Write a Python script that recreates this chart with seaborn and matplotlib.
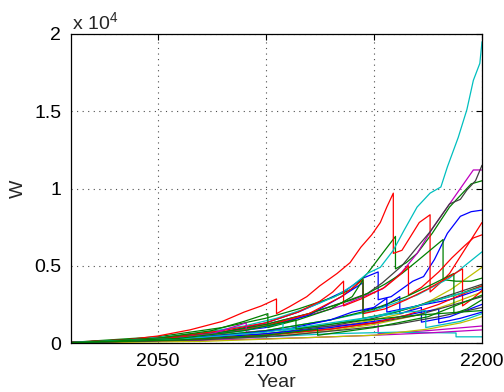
import matplotlib
matplotlib.use("Agg")
import matplotlib.pyplot as plt
import seaborn as sns
import pandas as pd

# ---- data (W in units of 10^4) ----
c1_year = [2010, 2030, 2050, 2070, 2090, 2105, 2120, 2132, 2140, 2147, 2153, 2159, 2164, 2170, 2176, 2181, 2184, 2189, 2193, 2196, 2199, 2200]
c1_w = [0.004, 0.012, 0.035, 0.065, 0.11, 0.16, 0.23, 0.30, 0.37, 0.45, 0.49, 0.60, 0.73, 0.88, 0.97, 1.01, 1.14, 1.33, 1.51, 1.70, 1.81, 1.95]

r1_year = [2010, 2035, 2050, 2065, 2080, 2090, 2098, 2105, 2105, 2111, 2119, 2125, 2133, 2139, 2144, 2149, 2153, 2156, 2159, 2159, 2163, 2167, 2171, 2176, 2176, 2180, 2185, 2190, 2195, 2200]
r1_w = [0.005, 0.02, 0.045, 0.085, 0.14, 0.20, 0.24, 0.285, 0.19, 0.235, 0.30, 0.37, 0.45, 0.52, 0.62, 0.70, 0.78, 0.88, 0.97, 0.58, 0.60, 0.69, 0.78, 0.83, 0.33, 0.38, 0.45, 0.56, 0.67, 0.78]

r2_year = [2010, 2050, 2080, 2100, 2115, 2125, 2131, 2136, 2136, 2145, 2155, 2162, 2166, 2166, 2172, 2180, 2186, 2192, 2196, 2200]
r2_w = [0.003, 0.03, 0.08, 0.13, 0.20, 0.27, 0.33, 0.40, 0.24, 0.29, 0.36, 0.44, 0.50, 0.31, 0.36, 0.46, 0.55, 0.63, 0.68, 0.70]

r3_year = [2010, 2050, 2080, 2100, 2120, 2135, 2145, 2145, 2155, 2165, 2175, 2185, 2191, 2191, 2196, 2200]
r3_w = [0.003, 0.025, 0.06, 0.11, 0.19, 0.30, 0.41, 0.19, 0.22, 0.28, 0.35, 0.43, 0.48, 0.24, 0.29, 0.34]

r4_year = [2010, 2060, 2100, 2130, 2150, 2165, 2180, 2190, 2200]
r4_w = [0.002, 0.02, 0.05, 0.09, 0.13, 0.18, 0.25, 0.31, 0.37]

g1_year = [2010, 2050, 2080, 2100, 2115, 2130, 2140, 2147, 2154, 2160, 2160, 2165, 2170, 2177, 2185, 2191, 2195, 2200]
g1_w = [0.004, 0.04, 0.10, 0.16, 0.22, 0.29, 0.35, 0.45, 0.58, 0.69, 0.48, 0.52, 0.58, 0.71, 0.88, 0.97, 1.03, 1.05]

g2_year = [2010, 2050, 2080, 2100, 2120, 2140, 2147, 2155, 2163, 2170, 2176, 2182, 2182, 2188, 2195, 2200]
g2_w = [0.003, 0.03, 0.07, 0.12, 0.19, 0.28, 0.32, 0.38, 0.45, 0.53, 0.60, 0.67, 0.41, 0.40, 0.40, 0.42]

g3_year = [2010, 2060, 2100, 2130, 2150, 2165, 2177, 2187, 2187, 2193, 2200]
g3_w = [0.003, 0.025, 0.08, 0.15, 0.22, 0.30, 0.38, 0.45, 0.19, 0.22, 0.28]

g4_year = [2010, 2050, 2075, 2090, 2101, 2101, 2115, 2130, 2140, 2145, 2145, 2160, 2175, 2190, 2200]
g4_w = [0.003, 0.03, 0.08, 0.14, 0.19, 0.10, 0.15, 0.22, 0.30, 0.41, 0.16, 0.20, 0.26, 0.32, 0.37]

g5_year = [2010, 2060, 2090, 2114, 2114, 2140, 2170, 2200]
g5_w = [0.002, 0.03, 0.08, 0.15, 0.09, 0.14, 0.18, 0.21]

g6_year = [2010, 2060, 2100, 2124, 2124, 2150, 2175, 2200]
g6_w = [0.002, 0.02, 0.05, 0.09, 0.05, 0.10, 0.17, 0.31]

b1_year = [2010, 2050, 2080, 2100, 2115, 2125, 2137, 2145, 2152, 2152, 2158, 2163, 2168, 2173, 2178, 2184, 2190, 2195, 2200]
b1_w = [0.003, 0.03, 0.07, 0.13, 0.20, 0.26, 0.34, 0.42, 0.46, 0.28, 0.30, 0.35, 0.40, 0.43, 0.54, 0.71, 0.82, 0.85, 0.86]

b2_year = [2010, 2060, 2100, 2120, 2135, 2145, 2145, 2155, 2162, 2162, 2172, 2172, 2185, 2200]
b2_w = [0.003, 0.03, 0.10, 0.18, 0.30, 0.39, 0.21, 0.24, 0.30, 0.19, 0.23, 0.135, 0.17, 0.25]

b3_year = [2010, 2060, 2100, 2130, 2155, 2172, 2180, 2180, 2190, 2200]
b3_w = [0.002, 0.02, 0.06, 0.10, 0.15, 0.20, 0.22, 0.13, 0.16, 0.20]

b4_year = [2010, 2050, 2090, 2110, 2130, 2140, 2150, 2156, 2156, 2170, 2185, 2200]
b4_w = [0.002, 0.02, 0.06, 0.09, 0.15, 0.20, 0.23, 0.29, 0.20, 0.24, 0.28, 0.35]

k1_year = [2010, 2050, 2080, 2100, 2120, 2135, 2147, 2154, 2163, 2170, 2176, 2185, 2190, 2193, 2197, 2200]
k1_w = [0.003, 0.03, 0.07, 0.12, 0.19, 0.26, 0.32, 0.39, 0.50, 0.62, 0.72, 0.90, 0.93, 0.99, 1.05, 1.15]

k2_year = [2010, 2060, 2100, 2130, 2150, 2170, 2185, 2200]
k2_w = [0.002, 0.02, 0.06, 0.11, 0.16, 0.24, 0.31, 0.38]

k3_year = [2010, 2060, 2100, 2130, 2150, 2170, 2185, 2200]
k3_w = [0.002, 0.02, 0.05, 0.09, 0.13, 0.18, 0.24, 0.30]

k4_year = [2010, 2070, 2110, 2140, 2160, 2180, 2200]
k4_w = [0.002, 0.02, 0.05, 0.09, 0.12, 0.17, 0.23]

m1_year = [2010, 2050, 2080, 2100, 2120, 2135, 2145, 2154, 2163, 2170, 2177, 2184, 2190, 2194, 2196, 2200]
m1_w = [0.003, 0.03, 0.07, 0.11, 0.18, 0.24, 0.30, 0.35, 0.46, 0.58, 0.74, 0.88, 1.00, 1.08, 1.12, 1.12]

m2_year = [2010, 2050, 2075, 2091, 2091, 2110, 2140, 2152, 2152, 2175, 2200]
m2_w = [0.002, 0.02, 0.06, 0.13, 0.07, 0.09, 0.12, 0.13, 0.06, 0.08, 0.11]

m3_year = [2010, 2080, 2120, 2150, 2175, 2200]
m3_w = [0.001, 0.02, 0.035, 0.05, 0.065, 0.085]

c2_year = [2010, 2060, 2100, 2130, 2150, 2170, 2185, 2192, 2200]
c2_w = [0.003, 0.03, 0.08, 0.15, 0.21, 0.31, 0.42, 0.50, 0.59]

c3_year = [2010, 2060, 2100, 2130, 2160, 2188, 2188, 2200]
c3_w = [0.002, 0.02, 0.04, 0.06, 0.07, 0.065, 0.04, 0.04]

c4_year = [2010, 2060, 2100, 2130, 2150, 2165, 2174, 2174, 2190, 2200]
c4_w = [0.002, 0.025, 0.07, 0.13, 0.17, 0.20, 0.21, 0.10, 0.14, 0.19]

c5_year = [2010, 2060, 2090, 2108, 2108, 2130, 2150, 2170, 2185, 2200]
c5_w = [0.002, 0.03, 0.08, 0.13, 0.08, 0.12, 0.17, 0.24, 0.30, 0.36]

y1_year = [2010, 2060, 2100, 2130, 2150, 2163, 2177, 2186, 2192, 2200]
y1_w = [0.002, 0.015, 0.05, 0.10, 0.15, 0.19, 0.28, 0.35, 0.41, 0.49]

y2_year = [2010, 2060, 2100, 2130, 2150, 2170, 2185, 2200]
y2_w = [0.002, 0.015, 0.04, 0.08, 0.12, 0.18, 0.25, 0.33]

y3_year = [2010, 2070, 2110, 2150, 2175, 2190, 2200]
y3_w = [0.001, 0.01, 0.03, 0.05, 0.09, 0.13, 0.17]

series_names = ["b1", "g1", "r1", "c1", "m1", "y1", "k1",
                "b2", "g2", "r2", "c2", "m2", "y2", "k2",
                "b3", "g3", "r3", "c3", "m3", "y3", "k3",
                "b4", "g4", "r4", "c4", "k4", "c5", "g5", "g6"]
series_years = {n: globals()[n + "_year"] for n in series_names}
series_w = {n: globals()[n + "_w"] for n in series_names}

matlab_colors = {"b": "#0000FF", "g": "#008000", "r": "#FF0000", "c": "#00BFBF",
                 "m": "#BF00BF", "y": "#BFBF00", "k": "#404040"}

rows = []
for n in series_names:
    for i, (yr, w) in enumerate(zip(series_years[n], series_w[n])):
        rows.append({"series": n, "Year": yr, "W": w, "order": i})
df = pd.DataFrame(rows)
palette = {n: matlab_colors[n[0]] for n in series_names}

# ---- plot ----
sns.set_style("white")
plt.rcParams["font.family"] = ["Liberation Sans", "DejaVu Sans"]
plt.rcParams["mathtext.fontset"] = "custom"
plt.rcParams["mathtext.rm"] = "Liberation Sans"

fig = plt.figure(figsize=(5.04, 3.92), dpi=100)
ax = fig.add_axes([71 / 504, 1 - 343 / 392, (482 - 71) / 504, (343 - 34) / 392])

sns.lineplot(data=df, x="Year", y="W", hue="series", palette=palette,
             estimator=None, sort=False, legend=False, linewidth=0.9, ax=ax)

ax.set_xlim(2010, 2200)
ax.set_ylim(0, 2)
ax.set_xticks([2050, 2100, 2150, 2200])
ax.set_yticks([0, 0.5, 1, 1.5, 2])
ax.set_yticklabels(["0", "0.5", "1", "1.5", "2"])
ax.grid(True, linestyle=(0, (1, 4)), color="0.3", linewidth=0.8)
ax.set_axisbelow(True)
for s in ax.spines.values():
    s.set_color("black")
    s.set_linewidth(0.9)
ax.tick_params(direction="in", length=4, width=0.8, top=True, right=True,
               labelsize=14, colors="black", pad=7)
ax.set_xlabel("Year", fontsize=14, labelpad=3)
ax.set_ylabel("W", fontsize=14, labelpad=5)
ax.text(0.003, 1.014, r"x 10$^{4}$", transform=ax.transAxes, fontsize=14,
        ha="left", va="baseline")

fig.savefig("out.png", dpi=100)
